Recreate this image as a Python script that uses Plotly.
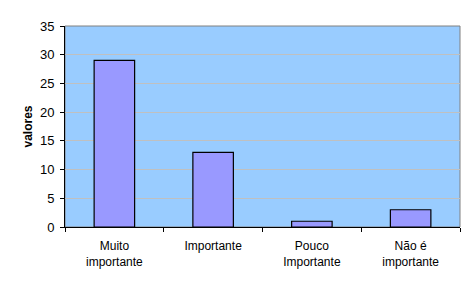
import plotly.graph_objects as go

categories = ["Muito<br>importante", "Importante", "Pouco<br>Importante", "Não é<br>importante"]
values = [29, 13, 1, 3]
y_ticks = [0, 5, 10, 15, 20, 25, 30, 35]

fig = go.Figure()
fig.add_trace(go.Bar(
    x=categories, y=values,
    marker=dict(color="#9999FF", line=dict(color="black", width=1.2)),
    width=0.41,
))

font = "Liberation Sans, Arial, sans-serif"
fig.update_layout(
    width=475, height=290,
    margin=dict(l=65, r=15, t=26, b=63),
    paper_bgcolor="white",
    plot_bgcolor="#99CCFF",
    showlegend=False,
    font=dict(family=font, size=12, color="black"),
    bargap=0.59,
    shapes=[dict(type="rect", xref="paper", yref="paper", x0=0, x1=1, y0=0, y1=1,
                 line=dict(color="#808080", width=1), layer="below")],
)
fig.update_xaxes(
    showline=True, linecolor="black", linewidth=1,
    ticks="outside", tickson="boundaries", ticklen=4, tickcolor="black",
    showgrid=False, tickfont=dict(size=12), ticklabelstandoff=8,
)
fig.update_yaxes(
    range=[0, 35], tickvals=y_ticks,
    showline=True, linecolor="black", linewidth=1,
    ticks="outside", ticklen=4, tickcolor="black",
    showgrid=True, gridcolor="#C0C0C0", gridwidth=1,
    zeroline=False, tickfont=dict(size=13), ticklabelstandoff=3,
    title=dict(text="<b>valores</b>", font=dict(size=12), standoff=4),
)
fig.write_html("out.html")
